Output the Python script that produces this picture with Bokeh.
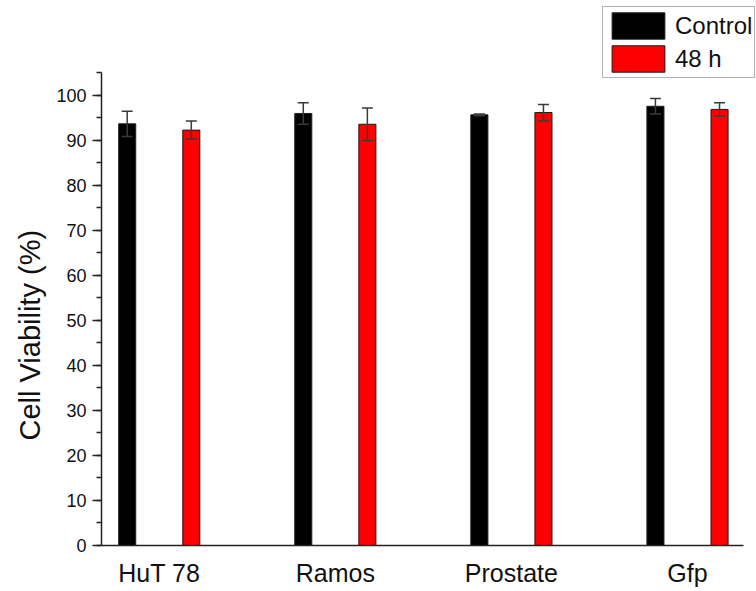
from bokeh.plotting import figure
from bokeh.models import (ColumnDataSource, FixedTicker, Whisker, TeeHead, Legend,
                          LegendItem, Range1d, SingleIntervalTicker, LinearAxis, Title)
from bokeh.transform import dodge
from bokeh.embed import file_html
from bokeh.resources import INLINE

# ---- data ----
categories = ["HuT 78", "Ramos", "Prostate", "Gfp"]
series_names = ["Control", "48 h"]
control = [93.7, 96.0, 95.7, 97.6]
control_err = [2.8, 2.4, 0.2, 1.7]
h48 = [92.3, 93.6, 96.2, 96.9]
h48_err = [2.0, 3.6, 1.8, 1.5]
y_label = "Cell Viability (%)"
y_tick_step = 10
y_axis_end = 105

FONT = "Liberation Sans"
OFF = 0.182
BAR_W = 0.097
X0, X1 = 0.672, 4.318

xs = list(range(1, len(categories) + 1))
src = ColumnDataSource(dict(
    x=xs,
    control=control,
    h48=h48,
    c_up=[v + e for v, e in zip(control, control_err)],
    c_lo=[v - e for v, e in zip(control, control_err)],
    h_up=[v + e for v, e in zip(h48, h48_err)],
    h_lo=[v - e for v, e in zip(h48, h48_err)],
))

p = figure(width=756, height=591, output_backend="svg", toolbar_location=None,
           x_range=Range1d(X0, 4.392), y_range=Range1d(0, 121.1),
           y_axis_location=None,
           min_border_left=101, min_border_right=0, min_border_top=0,
           min_border_bottom=46)
p.outline_line_color = None
p.xgrid.visible = False
p.ygrid.visible = False
p.background_fill_color = "white"
p.border_fill_color = "white"

r_c = p.vbar(x=dodge("x", -OFF), top="control", width=BAR_W, source=src,
             fill_color="#000000", line_color="#222222", line_width=1)
r_h = p.vbar(x=dodge("x", OFF), top="h48", width=BAR_W, source=src,
             fill_color="#ff0000", line_color="#1a1a1a", line_width=1)

for base, up, lo in [(dodge("x", -OFF), "c_up", "c_lo"), (dodge("x", OFF), "h_up", "h_lo")]:
    w = Whisker(source=src, base=base, upper=up, lower=lo, level="overlay",
                line_color="#3a3a3a", line_width=1.5,
                upper_head=TeeHead(size=11, line_color="#3a3a3a", line_width=1.5),
                lower_head=TeeHead(size=11, line_color="#3a3a3a", line_width=1.5))
    p.add_layout(w)

# y axis (ticks and numbers)
ya = LinearAxis(bounds=(0, y_axis_end))
ya.ticker = SingleIntervalTicker(interval=y_tick_step, num_minor_ticks=2)
ya.major_label_text_font = FONT
ya.major_label_text_font_size = "18px"
ya.major_label_text_color = "#111111"
ya.major_label_standoff = 6
ya.major_tick_out = 9
ya.major_tick_in = 0
ya.minor_tick_out = 5
ya.minor_tick_in = 0
ya.axis_line_width = 1.5
ya.axis_line_color = "#222222"
ya.major_tick_line_width = 1.5
ya.major_tick_line_color = "#222222"
ya.minor_tick_line_width = 1.5
ya.minor_tick_line_color = "#222222"
p.add_layout(ya, "left")

# y label as a side title so it can sit where the reference has it
yt = Title(text=y_label, align="left", offset=105, standoff=16,
           text_font=FONT, text_font_style="normal", text_font_size="29px",
           text_color="#111111")
p.add_layout(yt, "left")

# x axis
xa = p.xaxis[0]
xa.bounds = (X0, X1)
xa.ticker = FixedTicker(ticks=xs)
xa.major_label_overrides = {i: c for i, c in zip(xs, categories)}
xa.major_label_text_font = FONT
xa.major_label_text_font_size = "25px"
xa.major_label_text_color = "#111111"
xa.major_label_standoff = 13
xa.major_tick_out = 0
xa.major_tick_in = 0
xa.minor_tick_out = 0
xa.minor_tick_in = 0
xa.major_tick_line_color = None
xa.minor_tick_line_color = None
xa.axis_line_width = 1.5
xa.axis_line_color = "#222222"

legend = Legend(items=[LegendItem(label=series_names[0], renderers=[r_c]),
                       LegendItem(label=series_names[1], renderers=[r_h])],
                location=(501, 467), orientation="vertical",
                glyph_width=66, glyph_height=33, spacing=0, padding=2,
                label_standoff=4, margin=0,
                label_text_font=FONT, label_text_font_size="24px",
                label_text_color="#111111",
                border_line_color="#666666", border_line_width=1,
                background_fill_color="white", background_fill_alpha=1)
p.add_layout(legend, "center")

open("out.html", "w").write(file_html(p, INLINE))
